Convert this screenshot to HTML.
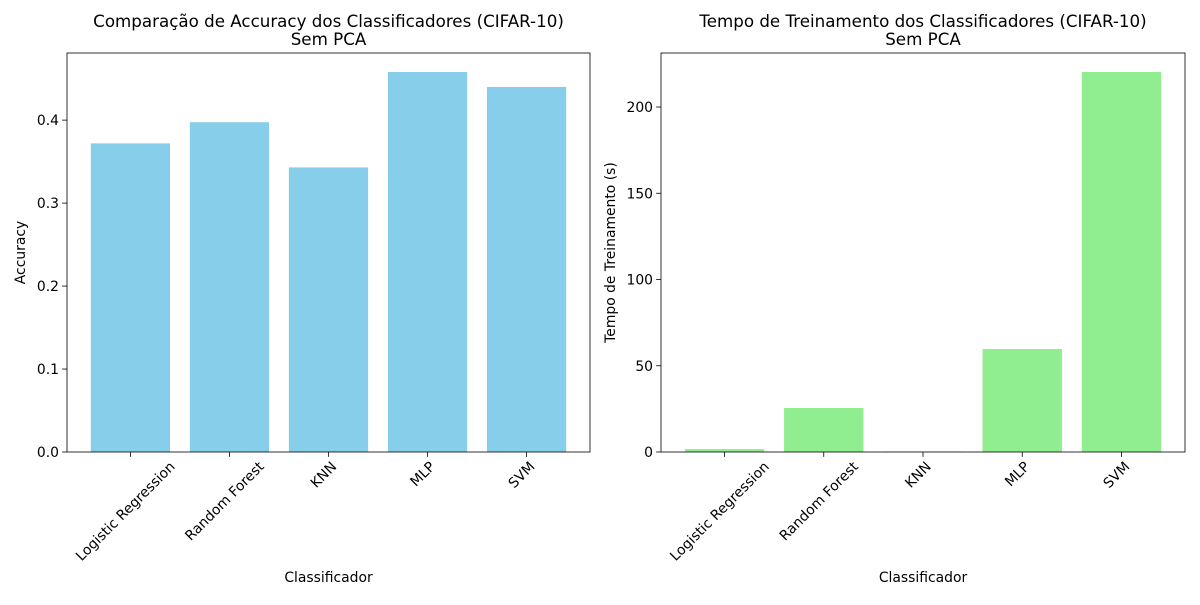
<!DOCTYPE html>
<html><head><meta charset="utf-8"><style>
body{margin:0;background:#fff}
svg text{font-family:"DejaVu Sans","Liberation Sans",sans-serif;fill:#000}
</style></head><body>
<svg id="c" width="1200" height="600" xmlns="http://www.w3.org/2000/svg"></svg>
<script>
const categories=["Logistic Regression","Random Forest","KNN","MLP","SVM"];
const accuracyValues=[0.372,0.3975,0.343,0.458,0.440];
const timeValues=[1.7,25.5,0.3,59.7,220.3];
const accTicks=[0,0.1,0.2,0.3,0.4];
const timeTicks=[0,50,100,150,200];
const svg=document.getElementById('c');
const NS="http://www.w3.org/2000/svg";
function el(t,a,p){const e=document.createElementNS(NS,t);for(const k in a)e.setAttribute(k,a[k]);(p||svg).appendChild(e);return e;}
function panel(x0,x1,y0,y1,vals,ticks,fmt,color,title1,title2,ylabel,key){
  const g=el('g',{});
  
  
  const n=vals.length;const lo=-0.4-0.05*(n-1+0.8),hi=n-1+0.4+0.05*(n-1+0.8);
  const xs=v=>x0+(v-lo)/(hi-lo)*(x1-x0);
  const ymax=Math.max(...vals)*1.05;
  const ys=v=>y1-v/ymax*(y1-y0);
  vals.forEach((v,i)=>{
    const b=el('rect',{x:xs(i-0.4),y:ys(v),width:xs(i+0.4)-xs(i-0.4),height:ys(0)-ys(v),fill:color},g);
    
    
    const x=xs(i);
    el('line',{x1:x,x2:x,y1:y1,y2:y1+4.9,stroke:'#000','stroke-width':0.8},g);
    const t=el('text',{x:0,y:0,'font-size':13.9,'text-anchor':'end'},g);
    t.textContent=categories[i];
    const L=t.getComputedTextLength(), h=10.5, c=Math.SQRT1_2;
    const ex=x+(L*c)/2-h*c/2+2, ey=y1+8+h*c;
    t.setAttribute('x',ex);t.setAttribute('y',ey);
    t.setAttribute('transform',`rotate(-45 ${ex} ${ey})`);
    
    
  });
  ticks.forEach(v=>{
    const y=ys(v);
    el('line',{x1:x0-4.9,x2:x0,y1:y,y2:y,stroke:'#000','stroke-width':0.8},g);
    const t=el('text',{x:x0-8,y:y+5,'font-size':13.9,'text-anchor':'end'},g);
    t.textContent=fmt(v);
    
    
  });
  const f=el('rect',{x:x0,y:y0,width:x1-x0,height:y1-y0,fill:'none',stroke:'#000','stroke-width':0.8},g);
  
  
  const cx=(x0+x1)/2;
  const t1=el('text',{x:cx,y:27,'font-size':16.7,'text-anchor':'middle'},g);t1.textContent=title1;
  
  
  const t2=el('text',{x:cx,y:45,'font-size':16.7,'text-anchor':'middle'},g);t2.textContent=title2;
  
  
  const xl=el('text',{x:cx,y:582,'font-size':13.9,'text-anchor':'middle'},g);xl.textContent='Classificador';
  
  
  const ly=(y0+y1)/2, lx=ylabel.length>10?x0-46:x0-42;
  const yl=el('text',{x:lx,y:ly,'font-size':13.9,'text-anchor':'middle',transform:`rotate(-90 ${lx} ${ly})`},g);yl.textContent=ylabel;
  
  
}
panel(67,590,53,452,accuracyValues,accTicks,v=>v.toFixed(1),'#87ceeb','Comparação de Accuracy dos Classificadores (CIFAR-10)','Sem PCA','Accuracy','accuracy');
panel(661,1185,53,452,timeValues,timeTicks,v=>String(v),'#90ee90','Tempo de Treinamento dos Classificadores (CIFAR-10)','Sem PCA','Tempo de Treinamento (s)','time');
</script>
</body></html>
